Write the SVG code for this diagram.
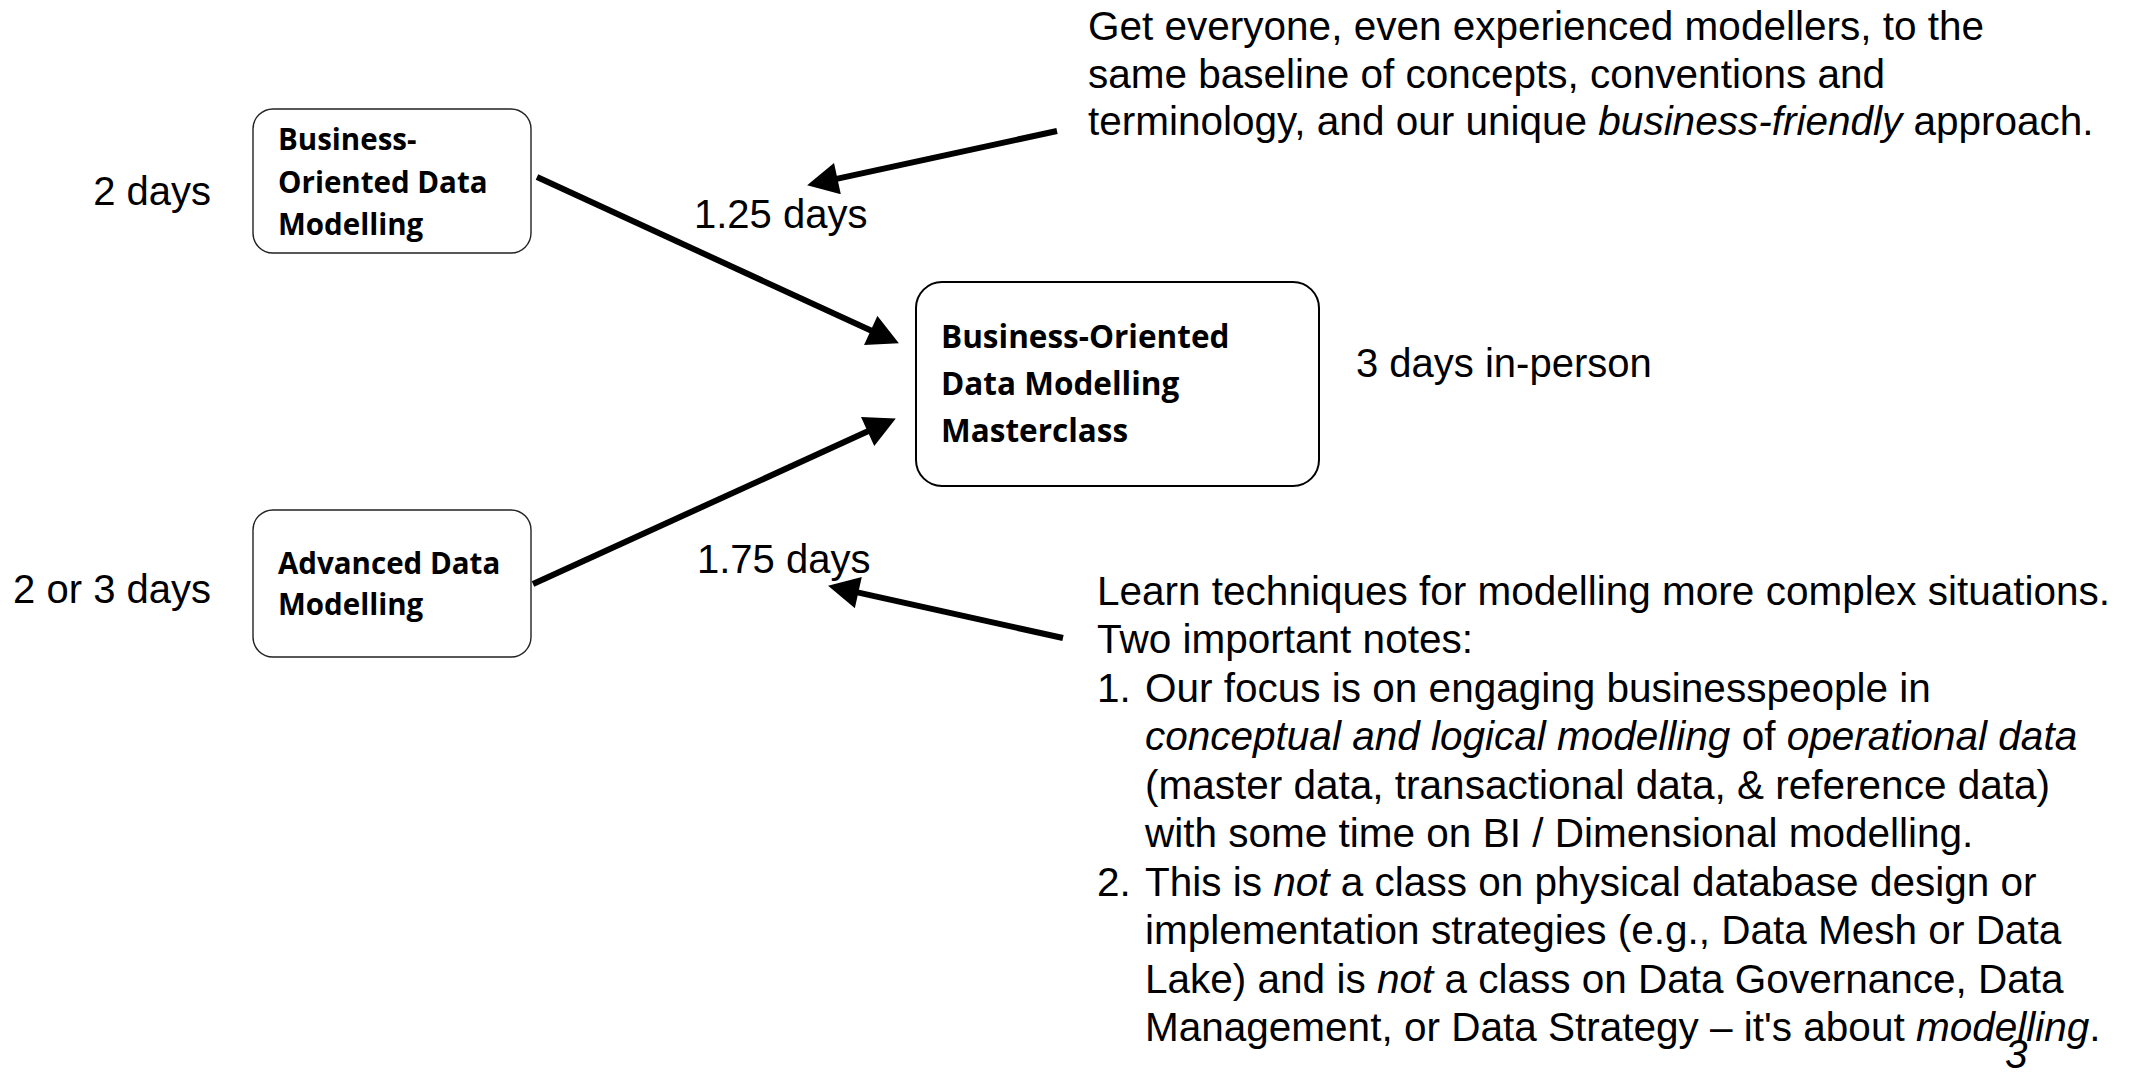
<svg xmlns="http://www.w3.org/2000/svg" width="2134" height="1073" viewBox="0 0 2134 1073">
<style>
.bg{fill:#ffffff}
.box{fill:#ffffff;stroke:#222222;stroke-width:1.4}
.boxc{fill:#ffffff;stroke:#000000;stroke-width:2}
.bt{font-family:"Open Sans","Liberation Sans",sans-serif;font-weight:bold;font-size:29.5px;fill:#000000}
.btc{font-size:31.5px}
.t{font-family:"Liberation Sans",Arial,sans-serif;font-size:40.5px;fill:#000000}
.lbl{font-family:"Liberation Sans",Arial,sans-serif;font-size:40px;fill:#000000}
.i{font-style:italic}
.con{stroke:#000000;stroke-width:6;fill:none;marker-end:url(#ah)}
</style>
<defs>
<marker id="ah" markerUnits="userSpaceOnUse" markerWidth="32" markerHeight="32" viewBox="0 0 30 31" refX="2" refY="15.5" orient="auto">
<path d="M0,0 L30,15.5 L0,31 Z" fill="#000000"/>
</marker>
</defs>
<rect class="bg" x="0" y="0" width="2134" height="1073"/>

<g id="connectors">
<line class="con" x1="537" y1="177" x2="872.6" y2="331.3"/>
<line class="con" x1="533" y1="584" x2="869.5" y2="430.6"/>
<line class="con" x1="1063" y1="638" x2="856.3" y2="592.1"/>
<line class="con" x1="1057" y1="131" x2="835.4" y2="179.1"/>
</g>

<g id="node-bodm">
<rect class="box" x="253" y="109" width="278" height="144" rx="20" ry="20"/>
<text class="bt" x="278" y="150">Business-</text>
<text class="bt" x="278" y="193">Oriented Data</text>
<text class="bt" x="278" y="235">Modelling</text>
</g>

<g id="node-adm">
<rect class="box" x="253" y="510" width="278" height="147" rx="20" ry="20"/>
<text class="bt" x="278" y="574">Advanced Data</text>
<text class="bt" x="278" y="615">Modelling</text>
</g>

<g id="node-masterclass">
<rect class="boxc" x="916" y="282" width="403" height="204" rx="26" ry="26"/>
<text class="bt btc" x="941" y="348">Business-Oriented</text>
<text class="bt btc" x="941" y="395">Data Modelling</text>
<text class="bt btc" x="941" y="442">Masterclass</text>
</g>

<g id="labels">
<text class="lbl" x="211" y="205" text-anchor="end">2 days</text>
<text class="lbl" x="211" y="603" text-anchor="end">2 or 3 days</text>
<text class="lbl" x="694" y="228">1.25 days</text>
<text class="lbl" x="697" y="573">1.75 days</text>
<text class="lbl" x="1356" y="377">3 days in-person</text>
</g>

<g id="note-top">
<text class="t" x="1088" y="40">Get everyone, even experienced modellers, to the</text>
<text class="t" x="1088" y="88">same baseline of concepts, conventions and</text>
<text class="t" x="1088" y="135">terminology, and our unique <tspan class="i">business-friendly</tspan> approach.</text>
</g>

<g id="note-bottom">
<text class="t" x="1097" y="605">Learn techniques for modelling more complex situations.</text>
<text class="t" x="1097" y="653">Two important notes:</text>
<text class="t" x="1097" y="702">1.</text>
<text class="t" x="1145" y="702">Our focus is on engaging businesspeople in</text>
<text class="t" x="1145" y="750"><tspan class="i">conceptual and logical modelling</tspan> of <tspan class="i">operational data</tspan></text>
<text class="t" x="1145" y="799">(master data, transactional data, &amp; reference data)</text>
<text class="t" x="1145" y="847">with some time on BI / Dimensional modelling.</text>
<text class="t" x="1097" y="896">2.</text>
<text class="t" x="1145" y="896">This is <tspan class="i">not</tspan> a class on physical database design or</text>
<text class="t" x="1145" y="944">implementation strategies (e.g., Data Mesh or Data</text>
<text class="t" x="1145" y="993">Lake) and is <tspan class="i">not</tspan> a class on Data Governance, Data</text>
<text class="t" x="1145" y="1041">Management, or Data Strategy – it's about <tspan class="i">modelling</tspan>.</text>
</g>

<text class="t i" x="2005" y="1068" font-size="32">3</text>
</svg>
